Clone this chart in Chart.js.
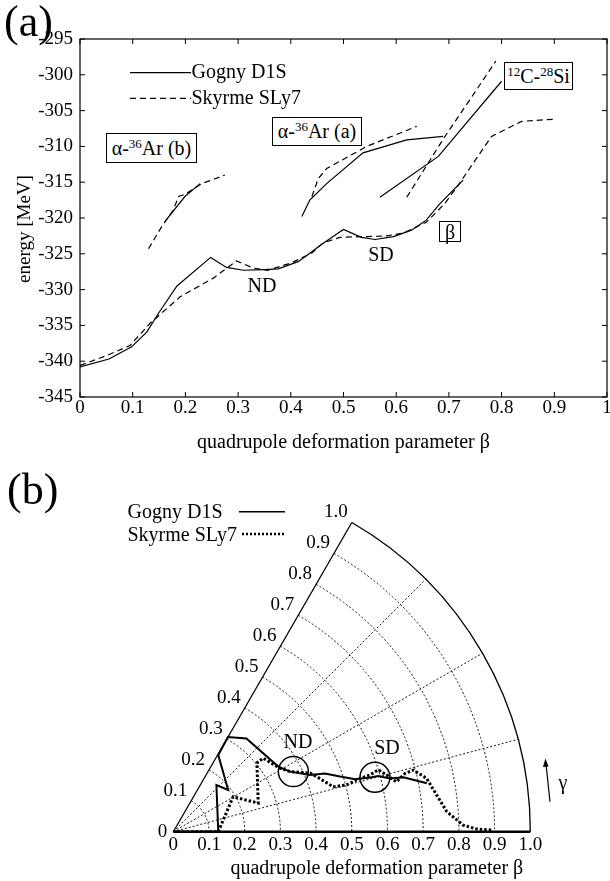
<!DOCTYPE html>
<html>
<head>
<meta charset="utf-8">
<script src="https://cdn.jsdelivr.net/npm/chart.js@4.4.0/dist/chart.umd.min.js"></script>
<style>
html, body { margin: 0; padding: 0; background: #fff; }
body { width: 610px; height: 881px; position: relative; overflow: hidden;
       font-family: "Liberation Serif", "Times New Roman", serif; color: #000; }
#cA { position: absolute; left: 0; top: 0; }
#cB { position: absolute; left: 0; top: 455px; }
.box { position: absolute; border: 1px solid #000; box-sizing: border-box; font-size: 20px;
       white-space: nowrap; text-align: center; background: #fff; }
.box sup { font-size: 65%; line-height: 0; vertical-align: 0.55em; }
</style>
</head>
<body>
<canvas id="cA" width="610" height="455"></canvas>
<canvas id="cB" width="610" height="426"></canvas>

<div class="box" style="left:106px;top:133px;width:91px;height:30px;line-height:28px;">&alpha;-<sup>36</sup>Ar (b)</div>
<div class="box" style="left:272px;top:117px;width:90px;height:29px;line-height:27px;">&alpha;-<sup>36</sup>Ar (a)</div>
<div class="box" style="left:504px;top:62px;width:69px;height:28px;line-height:27px;"><sup>12</sup>C-<sup>28</sup>Si</div>
<div class="box" style="left:439px;top:221px;width:22px;height:21px;line-height:20px;">&beta;</div>

<script>
// ---- panel (a): energy vs beta ----
const betaTicksA = [0, 0.1, 0.2, 0.3, 0.4, 0.5, 0.6, 0.7, 0.8, 0.9, 1];
const energyTicks = [-345, -340, -335, -330, -325, -320, -315, -310, -305, -300, -295];

// main curve (axial)
const mainBetaGogny = [0, 0.055, 0.098, 0.127, 0.149, 0.184, 0.248, 0.278, 0.31, 0.35, 0.376, 0.414, 0.44, 0.456, 0.474, 0.5, 0.534, 0.56, 0.595, 0.629, 0.657, 0.683, 0.727];
const mainEnergyGogny = [-340.8, -339.7, -338.0, -335.9, -333.3, -329.5, -325.5, -326.9, -327.3, -327.2, -327.1, -326.1, -324.7, -323.8, -322.9, -321.6, -322.7, -323.0, -322.6, -321.7, -320.3, -318.0, -314.7];
const mainBetaSkyrme = [0, 0.051, 0.095, 0.133, 0.19, 0.253, 0.297, 0.329, 0.356, 0.4, 0.44, 0.461, 0.493, 0.537, 0.582, 0.614, 0.657, 0.692, 0.715, 0.781, 0.838, 0.901];
const mainEnergySkyrme = [-340.6, -339.2, -337.8, -334.7, -331.0, -328.4, -326.0, -327.0, -327.3, -326.3, -324.9, -323.5, -322.7, -322.6, -322.5, -322.1, -320.6, -318.0, -315.7, -308.6, -306.5, -306.2];

// alpha-36Ar (a)
const arABetaGogny = [0.421, 0.436, 0.468, 0.537, 0.62, 0.689];
const arAEnergyGogny = [-319.8, -317.5, -315.2, -310.9, -309.1, -308.6];
const arABetaSkyrme = [0.44, 0.452, 0.468, 0.544, 0.639];
const arAEnergySkyrme = [-317.0, -314.5, -313.1, -310.0, -307.2];

// alpha-36Ar (b)
const arBBetaGogny = [0.161, 0.199, 0.228];
const arBEnergyGogny = [-320.5, -317.0, -315.2];
const arBBetaSkyrme = [0.130, 0.155, 0.177, 0.187, 0.199, 0.231, 0.275];
const arBEnergySkyrme = [-324.3, -321.2, -318.9, -317.0, -316.7, -315.2, -314.0];

// 12C-28Si
const cSiBetaGogny = [0.569, 0.68, 0.80];
const cSiEnergyGogny = [-317.1, -311.4, -300.9];
const cSiBetaSkyrme = [0.62, 0.689, 0.789];
const cSiEnergySkyrme = [-317.1, -309.0, -298.1];

// ---- panel (b): path in the beta-gamma plane (gamma in degrees) ----
const betaTicksB = [0, 0.1, 0.2, 0.3, 0.4, 0.5, 0.6, 0.7, 0.8, 0.9, 1.0];
const gridArcs = [0.1, 0.2, 0.3, 0.4, 0.5, 0.6, 0.7, 0.8, 0.9];
const gridRays = [15, 30, 45];
const pathBetaGogny = [0, 0.126, 0.178, 0.193, 0.249, 0.306, 0.332, 0.346, 0.368, 0.415, 0.455, 0.492, 0.530, 0.572, 0.595, 0.625, 0.662, 0.723];
const pathGammaGogny = [0, 0, 47.3, 37.2, 59.6, 60, 51.9, 31.8, 27.2, 22.5, 21.0, 18.3, 16.1, 15.4, 15.2, 13.8, 13.3, 10.8];
const pathBetaSkyrme = [0, 0.126, 0.194, 0.251, 0.303, 0.325, 0.348, 0.368, 0.417, 0.437, 0.465, 0.502, 0.534, 0.573, 0.600, 0.618, 0.640, 0.669, 0.694, 0.725, 0.745, 0.768, 0.812, 0.850, 0.896];
const pathGammaSkyrme = [0, 0, 30.3, 18.6, 39.4, 39.3, 30.8, 27.2, 23.2, 19.9, 15.7, 15.1, 15.8, 16.1, 16.8, 14.9, 12.6, 14.1, 14.4, 11.9, 7.9, 4.2, 1.3, 0.5, 0.3];
const minimaBeta = [0.376, 0.585];
const minimaGamma = [26.6, 15.1];

const SERIF = "'Liberation Serif', 'Times New Roman', serif";
Chart.defaults.font.family = SERIF;
Chart.defaults.color = '#000';

function pts(xs, ys) {
    return xs.map((v, i) => ({ x: v, y: ys[i] }));
}
function polarPts(betas, gammas) {
    return betas.map((b, i) => {
        const g = gammas[i] * Math.PI / 180;
        return { x: b * Math.cos(g), y: b * Math.sin(g) };
    });
}
function line(ctx, x1, y1, x2, y2) {
    ctx.beginPath();
    ctx.moveTo(x1, y1);
    ctx.lineTo(x2, y2);
    ctx.stroke();
}

const solid = { borderColor: '#000', borderWidth: 1.2, pointRadius: 0, showLine: true, fill: false };
const dashed = { borderColor: '#000', borderWidth: 1.2, pointRadius: 0, showLine: true, fill: false, borderDash: [6, 4] };

// frame, inward ticks, legend and labels of panel (a)
const frameA = {
    id: 'frameA',
    afterDraw(chart) {
        const { ctx, chartArea: a, scales: { x, y } } = chart;
        ctx.save();
        ctx.strokeStyle = '#000';
        ctx.lineWidth = 1.2;
        ctx.strokeRect(a.left, a.top, a.right - a.left, a.bottom - a.top);
        ctx.lineWidth = 1;
        betaTicksA.forEach(v => {
            const px = x.getPixelForValue(v);
            line(ctx, px, a.bottom, px, a.bottom - 5);
            line(ctx, px, a.top, px, a.top + 5);
        });
        energyTicks.forEach(v => {
            const py = y.getPixelForValue(v);
            line(ctx, a.left, py, a.left + 5, py);
            line(ctx, a.right, py, a.right - 5, py);
        });

        // legend
        ctx.lineWidth = 1.2;
        line(ctx, 130, 72.7, 191, 72.7);
        ctx.setLineDash([6, 4]);
        line(ctx, 130, 98.3, 191, 98.3);
        ctx.setLineDash([]);
        ctx.fillStyle = '#000';
        ctx.font = '20px ' + SERIF;
        ctx.textBaseline = 'middle';
        ctx.textAlign = 'left';
        ctx.fillText('Gogny D1S', 191.5, 73);
        ctx.fillText('Skyrme SLy7', 191.5, 99);

        ctx.textAlign = 'center';
        ctx.fillText('ND', 262, 287);
        ctx.fillText('SD', 381, 256);

        // y axis title
        ctx.save();
        ctx.font = '19px ' + SERIF;
        ctx.translate(25, 229);
        ctx.rotate(-Math.PI / 2);
        ctx.fillText('energy [MeV]', 0, 0);
        ctx.restore();

        ctx.font = '44px ' + SERIF;
        ctx.textAlign = 'left';
        ctx.fillText('(a)', 4, 24);
        ctx.restore();
    }
};

new Chart(document.getElementById('cA'), {
    type: 'scatter',
    data: {
        datasets: [
            Object.assign({ data: pts(mainBetaGogny, mainEnergyGogny) }, solid),
            Object.assign({ data: pts(mainBetaSkyrme, mainEnergySkyrme) }, dashed),
            Object.assign({ data: pts(arABetaGogny, arAEnergyGogny) }, solid),
            Object.assign({ data: pts(arABetaSkyrme, arAEnergySkyrme) }, dashed),
            Object.assign({ data: pts(arBBetaGogny, arBEnergyGogny) }, solid),
            Object.assign({ data: pts(arBBetaSkyrme, arBEnergySkyrme) }, dashed),
            Object.assign({ data: pts(cSiBetaGogny, cSiEnergyGogny) }, solid),
            Object.assign({ data: pts(cSiBetaSkyrme, cSiEnergySkyrme) }, dashed)
        ]
    },
    options: {
        responsive: false,
        animation: false,
        events: [],
        layout: { padding: { left: 0, top: 39, right: 3, bottom: 0 } },
        plugins: { legend: { display: false }, tooltip: { enabled: false } },
        scales: {
            x: {
                type: 'linear', min: 0, max: 1,
                afterBuildTicks: s => { s.ticks = betaTicksA.map(v => ({ value: v })); },
                afterFit: s => { s.height = 58; s.paddingLeft = 0; s.paddingRight = 0; },
                grid: { display: false, drawTicks: false },
                border: { display: false },
                ticks: {
                    font: { size: 19 }, padding: 0, maxRotation: 0, autoSkip: false,
                    callback: v => (v === 0 ? '0' : v === 1 ? '1' : v.toFixed(1))
                },
                title: { display: true, text: 'quadrupole deformation parameter \u03b2', font: { size: 20 }, padding: { top: 5, bottom: 0 } }
            },
            y: {
                type: 'linear', min: -345, max: -295,
                afterBuildTicks: s => { s.ticks = energyTicks.map(v => ({ value: v })); },
                afterFit: s => { s.width = 80; s.paddingTop = 0; s.paddingBottom = 0; },
                grid: { display: false, drawTicks: false },
                border: { display: false },
                ticks: { font: { size: 19 }, padding: 7, callback: v => String(v) },
                title: { display: false }
            }
        }
    },
    plugins: [frameA]
});

// polar grid of panel (b), drawn under the paths
const polarGrid = {
    id: 'polarGrid',
    beforeDatasetsDraw(chart) {
        const { ctx, scales: { x, y } } = chart;
        const cx = x.getPixelForValue(0), cy = y.getPixelForValue(0);
        const R = v => x.getPixelForValue(v) - cx;
        const s60 = Math.sin(Math.PI / 3), c60 = Math.cos(Math.PI / 3);
        ctx.save();
        ctx.strokeStyle = '#000';
        ctx.lineWidth = 0.9;
        ctx.setLineDash([2, 2]);
        gridArcs.forEach(b => {
            ctx.beginPath();
            ctx.arc(cx, cy, R(b), -Math.PI / 3, 0);
            ctx.stroke();
        });
        gridRays.forEach(g => {
            const r = g * Math.PI / 180;
            line(ctx, cx, cy, cx + R(1) * Math.cos(r), cy - R(1) * Math.sin(r));
        });
        ctx.setLineDash([]);
        ctx.lineWidth = 1.3;
        ctx.beginPath();
        ctx.arc(cx, cy, R(1), -Math.PI / 3, 0);
        ctx.stroke();
        line(ctx, cx, cy, cx + R(1) * c60, cy - R(1) * s60);
        ctx.lineWidth = 2.5;
        line(ctx, cx, cy, cx + R(1), cy);
        ctx.restore();
    },
    afterDraw(chart) {
        const { ctx, scales: { x, y } } = chart;
        const cx = x.getPixelForValue(0), cy = y.getPixelForValue(0);
        const R = v => x.getPixelForValue(v) - cx;
        const s60 = Math.sin(Math.PI / 3), c60 = Math.cos(Math.PI / 3);
        ctx.save();
        ctx.fillStyle = '#000';
        ctx.strokeStyle = '#000';
        ctx.font = '19px ' + SERIF;
        ctx.textBaseline = 'middle';
        ctx.textAlign = 'right';
        betaTicksB.forEach(b => {
            const px = cx + R(b) * c60, py = cy - R(b) * s60;
            if (b === 0) ctx.fillText('0', px - 6, py);
            else ctx.fillText(b.toFixed(1), px - 4, py - 10);
        });

        // legend
        ctx.font = '20px ' + SERIF;
        ctx.textAlign = 'left';
        ctx.fillText('Gogny D1S', 127.5, 58);
        ctx.fillText('Skyrme SLy7', 127.5, 80.5);
        ctx.lineWidth = 1.5;
        line(ctx, 239, 56.7, 285, 56.7);
        ctx.lineWidth = 2.5;
        ctx.setLineDash([2, 2]);
        line(ctx, 242, 79, 285, 79);
        ctx.setLineDash([]);

        ctx.textAlign = 'center';
        ctx.fillText('ND', 298, 288);
        ctx.fillText('SD', 387, 294);
        ctx.fillText('\u03b3', 563, 329);

        // gamma arrow
        ctx.lineWidth = 1.2;
        line(ctx, 550, 346.7, 546, 309);
        ctx.beginPath();
        ctx.moveTo(545.4, 303.5);
        ctx.lineTo(543, 312);
        ctx.lineTo(548.6, 311.4);
        ctx.closePath();
        ctx.fill();

        ctx.font = '44px ' + SERIF;
        ctx.textAlign = 'left';
        ctx.fillText('(b)', 7, 37);
        ctx.restore();
    }
};

new Chart(document.getElementById('cB'), {
    type: 'scatter',
    data: {
        datasets: [
            { data: polarPts(pathBetaGogny, pathGammaGogny), borderColor: '#000', borderWidth: 2, pointRadius: 0, showLine: true, fill: false },
            { data: polarPts(pathBetaSkyrme, pathGammaSkyrme), borderColor: '#000', borderWidth: 3, borderDash: [2.5, 2], pointRadius: 0, showLine: true, fill: false },
            { data: polarPts(minimaBeta, minimaGamma), showLine: false, pointRadius: 15, pointStyle: 'circle', borderColor: '#000', borderWidth: 1.5, backgroundColor: 'rgba(0,0,0,0)' }
        ]
    },
    options: {
        responsive: false,
        animation: false,
        events: [],
        layout: { padding: { left: 173.3, top: 19.7, right: 29.7, bottom: 0 } },
        plugins: { legend: { display: false }, tooltip: { enabled: false } },
        scales: {
            x: {
                type: 'linear', min: 0, max: 1.14,
                afterBuildTicks: s => { s.ticks = betaTicksB.map(v => ({ value: v })); },
                afterFit: s => { s.height = 49.3; s.paddingLeft = 0; s.paddingRight = 0; },
                grid: { display: false, drawTicks: false },
                border: { display: false },
                ticks: {
                    font: { size: 19 }, padding: 2, maxRotation: 0, autoSkip: false,
                    callback: v => (v === 0 ? '0' : v.toFixed(1))
                },
                title: { display: true, text: 'quadrupole deformation parameter \u03b2', font: { size: 20 }, padding: { top: 3, bottom: 0 } }
            },
            y: { type: 'linear', min: 0, max: 1, display: false }
        }
    },
    plugins: [polarGrid]
});
</script>
</body>
</html>
